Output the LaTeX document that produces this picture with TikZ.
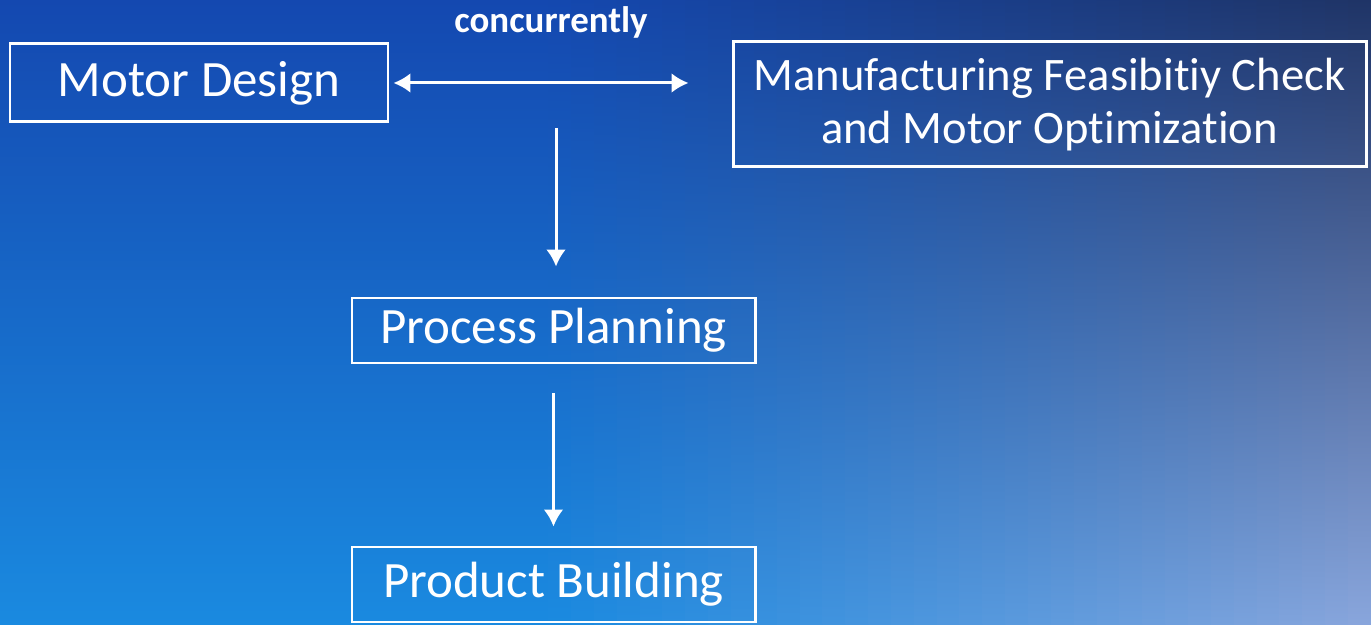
\documentclass[tikz,border=0pt]{standalone}
\usepackage{fontspec}
\setmainfont{Carlito}[Ligatures=CommonOff]
\usetikzlibrary{positioning,arrows.meta}
\definecolor{bgTL}{RGB}{20,72,176}
\definecolor{bgML}{RGB}{24,108,205}
\definecolor{bgBL}{RGB}{26,138,224}
\definecolor{bgTR}{RGB}{31,52,102}
\definecolor{bgMR}{RGB}{92,120,194}
\definecolor{bgBR}{RGB}{138,166,220}
\tikzset{stage/.style={draw=white, line width=1.7pt, text=white, inner sep=0pt, align=center,
                       font=\fontsize{29}{29.5}\selectfont},
         flow/.style={draw=white, line width=1.7pt, >={Latex[length=0.34cm,width=0.4cm]}, ->}}

\begin{document}
\begin{tikzpicture} % flow of the motor project
  \useasboundingbox (0,0) rectangle (27.42,12.5);
  % background, blue to navy and lavender, in thin strips
  \foreach \i [evaluate=\i as \w using {max(0,min(100,((\i+0.5)*0.457-11)/16.42*100))}] in {0,...,59}
    \shade[top color=bgTR!\w!bgTL, middle color=bgMR!\w!bgML, bottom color=bgBR!\w!bgBL]
          (\i*0.457,0) rectangle ++(0.47,12.5);

  \node[stage, minimum width=7.56cm, minimum height=1.56cm] (design) at (3.98,10.84) {Motor Design};
  \node[stage, minimum width=12.66cm, minimum height=2.5cm, font=\fontsize{26.5}{30}\selectfont] (check) at (20.99,10.41)
        {Manufacturing Feasibitiy Check\\and Motor Optimization};
  \node[stage, minimum width=8.06cm, minimum height=1.3cm] (planning) at (11.07,5.89) {Process Planning};
  \node[stage, minimum width=8.06cm, minimum height=1.5cm] (building) at (11.07,0.81) {Product Building};
  \node[text=white, font=\fontsize{21}{21}\bfseries] (conc) at (11.02,12.06) {concurrently};

  \coordinate (split) at (11.12,9.94);
  \draw[flow, <->, shorten <=0.08cm, shorten >=0.86cm]
        (design.east) -- (design.east -| check.west);
  \draw[flow, shorten >=0.6cm] (split) -- (split |- planning.north);
  \draw[flow, shorten <=0.58cm, shorten >=0.38cm] (planning) -- (building);
\end{tikzpicture}
\end{document}
